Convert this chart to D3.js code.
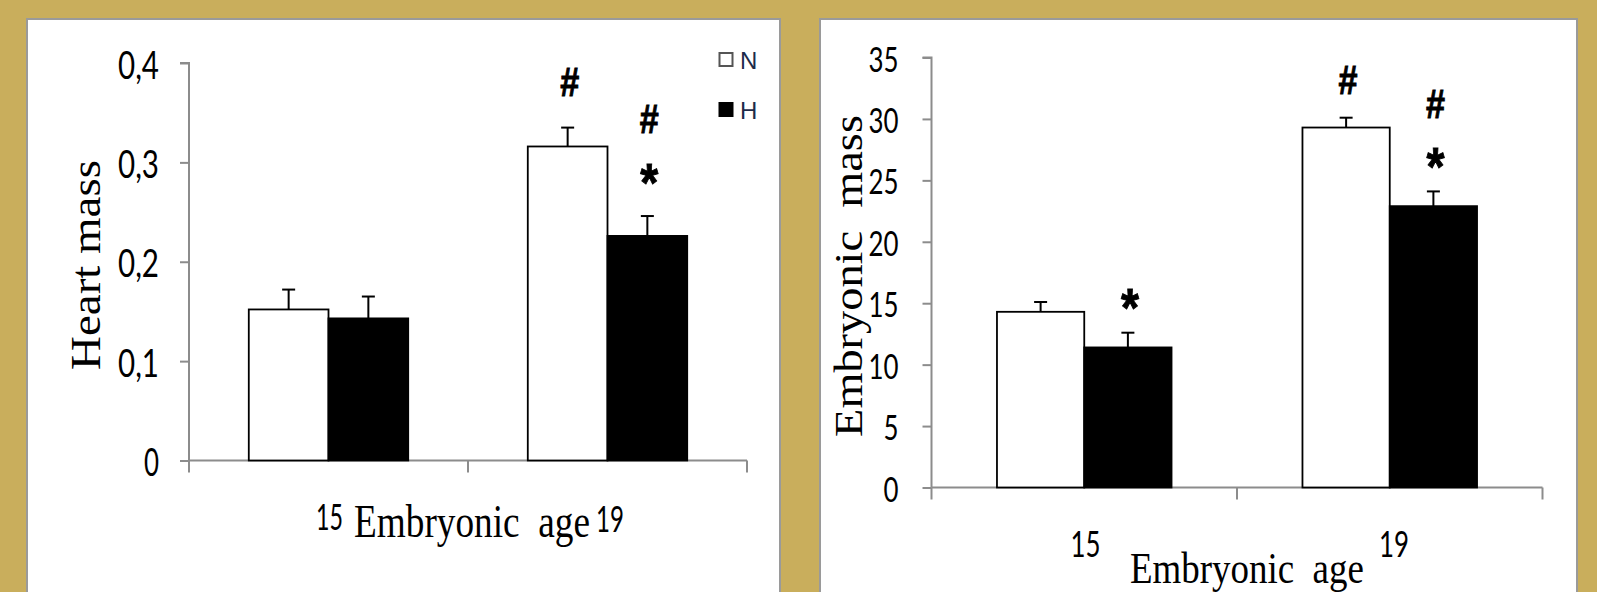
<!DOCTYPE html>
<html>
<head>
<meta charset="utf-8">
<script src="https://cdn.jsdelivr.net/npm/d3@7"></script>
<style>
html,body{margin:0;padding:0;background:#C9AE5C;}
svg{display:block;}
text{white-space:pre;}
</style>
</head>
<body>
<svg id="chart" width="1597" height="592"></svg>
<script>
// ---------- data ----------
const categories = ["15", "19"];
const seriesNames = ["N", "H"];

const heartN    = [0.152, 0.316];
const heartH    = [0.143, 0.226];
const heartNErr = [0.020, 0.019];
const heartHErr = [0.022, 0.020];
const heartTicks = [0, 0.1, 0.2, 0.3, 0.4];
const heartTickLabels = ["0", "0,1", "0,2", "0,3", "0,4"];

const embN    = [14.3, 29.3];
const embH    = [11.4, 22.9];
const embNErr = [0.8, 0.8];
const embHErr = [1.2, 1.2];
const embTicks = [0, 5, 10, 15, 20, 25, 30, 35];
const embTickLabels = ["0", "5", "10", "15", "20", "25", "30", "35"];

// significance marks: [category, series, marks from bottom to top]
const heartMarks = [["19", "N", ["#"]], ["19", "H", ["*", "#"]]];
const embMarks   = [["15", "H", ["*"]], ["19", "N", ["#"]], ["19", "H", ["*", "#"]]];

// ---------- drawing ----------
const svg = d3.select("#chart");
const GOLD = "#C9AE5C";
svg.append("rect").attr("width", 1597).attr("height", 592).attr("fill", GOLD);

// draw a text condensed to a given width using a horizontal scale transform
function squeezed(g, txt, x, y, fs, w, family, rotate) {
  const t = g.append("text").text(txt)
    .attr("font-family", family).attr("font-size", fs).attr("fill", "#000");
  const nat = t.node().getComputedTextLength();
  const k = w / nat;
  if (rotate) {
    t.attr("text-anchor", "middle")
     .attr("transform", `translate(${x},${y}) rotate(-90) scale(${k},1)`);
  } else {
    t.attr("transform", `translate(${x},${y}) scale(${k},1)`);
  }
  return t;
}

function panel(cfg) {
  const g = svg.append("g");
  g.append("rect").attr("x", cfg.box[0]).attr("y", cfg.box[1])
    .attr("width", cfg.box[2]).attr("height", 700)
    .attr("fill", "#fff").attr("stroke", "#9a9a9a").attr("stroke-width", 2);

  const y = d3.scaleLinear().domain(cfg.yDomain).range([cfg.y0, cfg.y1]);
  const x0 = d3.scaleBand().domain(categories).range([cfg.x0, cfg.x1]).padding(0);
  const bw = x0.bandwidth();
  const x1 = d3.scaleBand().domain(seriesNames).range([bw * 0.2143, bw * 0.7857]).padding(0);

  // y axis
  const yAxis = d3.axisLeft(y).tickValues(cfg.ticks)
    .tickFormat((d, i) => cfg.tickLabels[i]).tickSize(9).tickPadding(cfg.tickPad);
  const ya = g.append("g").attr("transform", `translate(${cfg.x0},0)`).call(yAxis);
  ya.select(".domain").attr("stroke", "#8c8c8c").attr("stroke-width", 2)
    .attr("d", `M-9,${cfg.y1}H0V${cfg.y0}`);
  ya.selectAll(".tick line").attr("stroke", "#8c8c8c").attr("stroke-width", 2);
  ya.selectAll(".tick text")
    .attr("font-family", "Lato, 'Open Sans', sans-serif")
    .attr("font-size", cfg.tickFont).attr("fill", "#000")
    .attr("dy", null).attr("dominant-baseline", "central")
    .attr("textLength", d => {
      const s = cfg.tickLabels[cfg.ticks.indexOf(d)];
      let w = 0; for (const c of s) w += (c === "," ? 11 : 15);
      return w;
    })
    .attr("lengthAdjust", "spacingAndGlyphs");

  // x axis (ticks at band boundaries, no labels)
  const edges = categories.map(c => x0(c)).concat([cfg.x1]);
  g.append("line").attr("x1", cfg.x0).attr("x2", cfg.x1).attr("y1", y(0)).attr("y2", y(0))
    .attr("stroke", "#8c8c8c").attr("stroke-width", 2);
  g.selectAll(".xt").data(edges).join("line")
    .attr("x1", d => d).attr("x2", d => d).attr("y1", y(0)).attr("y2", y(0) + 12)
    .attr("stroke", "#8c8c8c").attr("stroke-width", 2);

  // bars
  const rows = [];
  categories.forEach((c, i) => {
    rows.push({cat: c, s: "N", v: cfg.N[i], e: cfg.NErr[i]});
    rows.push({cat: c, s: "H", v: cfg.H[i], e: cfg.HErr[i]});
  });
  const bars = g.selectAll(".bar").data(rows).join("g");
  bars.append("line")
    .attr("x1", d => x0(d.cat) + x1(d.s) + x1.bandwidth() / 2)
    .attr("x2", d => x0(d.cat) + x1(d.s) + x1.bandwidth() / 2)
    .attr("y1", d => y(d.v)).attr("y2", d => y(d.v + d.e))
    .attr("stroke", "#000").attr("stroke-width", 2);
  bars.append("line")
    .attr("x1", d => x0(d.cat) + x1(d.s) + x1.bandwidth() / 2 - 6.5)
    .attr("x2", d => x0(d.cat) + x1(d.s) + x1.bandwidth() / 2 + 6.5)
    .attr("y1", d => y(d.v + d.e)).attr("y2", d => y(d.v + d.e))
    .attr("stroke", "#000").attr("stroke-width", 2);
  bars.append("rect")
    .attr("x", d => x0(d.cat) + x1(d.s))
    .attr("y", d => y(d.v))
    .attr("width", x1.bandwidth())
    .attr("height", d => y(0) - y(d.v))
    .attr("fill", d => d.s === "N" ? "#fff" : "#000")
    .attr("stroke", "#000").attr("stroke-width", 1.8);

  // significance marks
  cfg.marks.forEach(([c, s, list]) => {
    const r = rows.find(d => d.cat === c && d.s === s);
    const cx = x0(c) + x1(s) + x1.bandwidth() / 2 + 2;
    const top = y(r.v + r.e);
    list.forEach((m, k) => {
      const cy = top - cfg.markGap - k * cfg.markStep;
      const t = g.append("text").text(m)
        .attr("x", cx).attr("text-anchor", "middle")
        .attr("font-family", "'Liberation Sans', Arial, sans-serif")
        .attr("font-weight", "bold").attr("fill", "#000")
        .attr("stroke", "#000").attr("stroke-width", 0.9);
      if (m === "#") {
        t.attr("font-size", 40).attr("y", cy + 0.36 * 40)
          .attr("textLength", 19).attr("lengthAdjust", "spacingAndGlyphs");
      } else {
        t.attr("font-size", 54).attr("y", cy + 0.58 * 54)
          .attr("textLength", 18).attr("lengthAdjust", "spacingAndGlyphs");
      }
    });
  });

  // y label
  squeezed(g, cfg.yLabel, cfg.yLab[0], cfg.yLab[1], cfg.yLab[2], cfg.yLab[3],
    "'Liberation Serif', 'Times New Roman', serif", true);

  // x label parts
  cfg.xLabs.forEach(([txt, x, yb, fs, w, serif]) => {
    squeezed(g, txt, x, yb, fs, w,
      serif ? "'Liberation Serif', 'Times New Roman', serif" : "Lato, 'Open Sans', sans-serif", false);
  });
  return {x0, x1, y};
}

panel({
  box: [27, 19, 753],
  x0: 189, x1: 747, y0: 460.5, y1: 63, yDomain: [0, 0.4],
  ticks: heartTicks, tickLabels: heartTickLabels, tickFont: 38, tickPad: 21,
  N: heartN, H: heartH, NErr: heartNErr, HErr: heartHErr,
  marks: heartMarks, markGap: 46, markStep: 51,
  yLabel: "Heart mass", yLab: [100, 265, 43, 210],
  xLabs: [
    [categories[0], 316, 530, 36, 27, false],
    ["Embryonic  age", 354, 537, 46, 236, true],
    [categories[1], 596, 532, 36, 28, false]
  ]
});

panel({
  box: [820, 19, 757],
  x0: 931.5, x1: 1542.5, y0: 487.5, y1: 57.5, yDomain: [0, 35],
  ticks: embTicks, tickLabels: embTickLabels, tickFont: 34, tickPad: 24,
  N: embN, H: embH, NErr: embNErr, HErr: embHErr,
  marks: embMarks, markGap: 38, markStep: 50,
  yLabel: "Embryonic  mass", yLab: [862, 276, 41, 322],
  xLabs: [
    [categories[0], 1070.5, 557, 36, 30, false],
    ["Embryonic  age", 1130, 583, 45, 234, true],
    [categories[1], 1379, 557, 36, 30, false]
  ]
});

// legend (left panel)
const legendY = [60, 110];
seriesNames.forEach((s, i) => {
  svg.append("rect").attr("x", 719.5).attr("y", legendY[i] - 7).attr("width", 13).attr("height", 13)
    .attr("fill", s === "N" ? "#fff" : "#000")
    .attr("stroke", s === "N" ? "#555" : "#000").attr("stroke-width", 2);
  svg.append("text").text(s).attr("x", 740).attr("y", legendY[i] + 8.5)
    .attr("font-family", "'Liberation Sans', Arial, sans-serif")
    .attr("font-size", 24).attr("fill", "#1d2b4a");
});
</script>
</body>
</html>
